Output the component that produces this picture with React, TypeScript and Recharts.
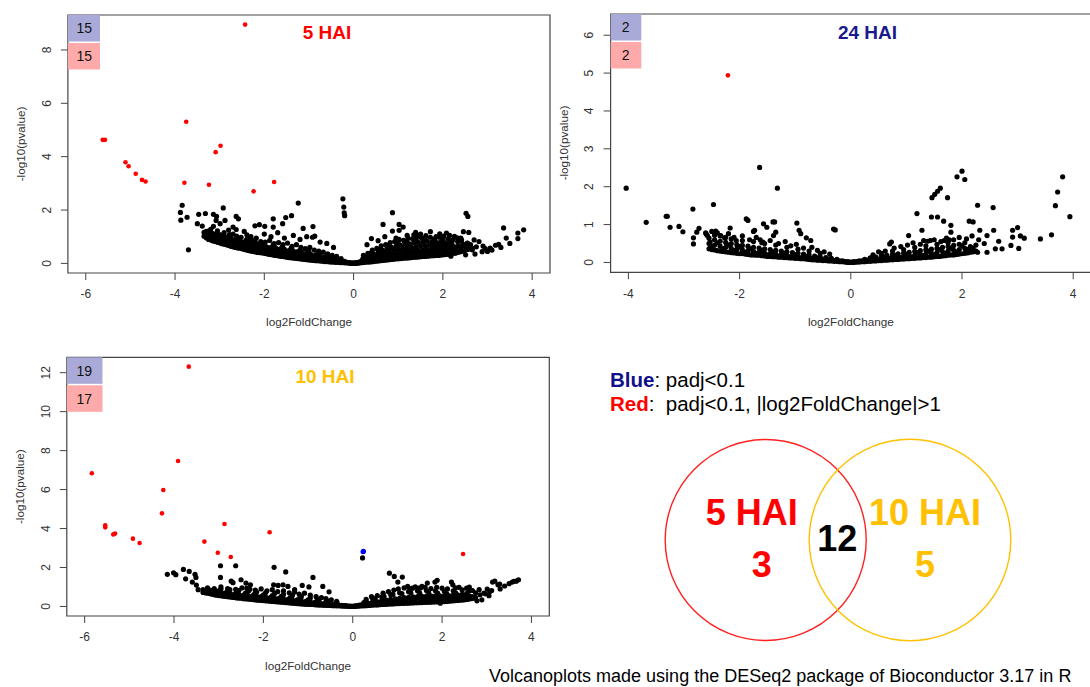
import React from 'react'
import { ScatterChart, Scatter, XAxis, YAxis, ReferenceArea } from 'recharts'

type Pt = { x: number; y: number }

const FONT = '"Liberation Sans", Arial, Helvetica, sans-serif'

// ---------- 5 HAI ----------
const hai5Red: number[][] = [
  [-2.43, 8.95], [-5.62, 4.63], [-5.57, 4.63], [-5.11, 3.79], [-5.04, 3.64], [-4.88, 3.36],
  [-4.74, 3.13], [-4.66, 3.07], [-3.75, 5.31], [-3.79, 3.02], [-3.24, 2.95], [-3.09, 4.17],
  [-2.98, 4.41], [-2.24, 2.7], [-1.78, 3.05],
]
const hai5Black: number[][] = [
  [-3.84, 2.18], [-3.88, 1.91], [-3.87, 1.62], [-3.73, 1.73], [-3.7, 0.51], [-3.47, 1.84], [-3.32, 1.87],
  [-3.5, 1.49], [-3.39, 1.4], [-3.14, 1.84], [-3.07, 1.76], [-3.08, 1.61], [-2.99, 1.49], [-2.88, 1.61],
  [-3.14, 1.39], [-2.92, 2.08], [-2.63, 1.76], [-2.58, 1.67], [-2.7, 1.36], [-2.63, 1.27], [-2.39, 1.07],
  [-2.21, 1.41], [-2.11, 1.45], [-1.99, 1.39], [-1.8, 1.67], [-1.8, 1.36], [-1.59, 1.49], [-1.52, 1.72],
  [-1.39, 1.79], [-1.24, 2.26], [-1.13, 1.31], [-0.91, 1.38], [-0.87, 1.02], [-0.92, 0.98],
  [-0.24, 2.42], [-0.22, 2.11], [-0.21, 1.89], [-0.2, 1.79],
  [-3.3, 1.2], [-3.21, 1.1], [-2.95, 1.05], [-2.8, 1.25], [-2.7, 1.1], [-2.45, 1.2], [-2.3, 1.0],
  [-2.0, 1.1], [-1.85, 1.0], [-1.7, 1.15], [-1.55, 0.95], [-1.35, 1.05], [-1.2, 0.9], [-1.05, 1.0],
  [-0.75, 0.8], [-0.6, 0.75], [-0.45, 0.6],
  [0.87, 1.9], [0.66, 1.46], [1.02, 1.46], [1.11, 1.36], [0.87, 1.21], [1.02, 1.24], [0.4, 0.93],
  [1.39, 1.16], [1.35, 1.07], [1.72, 1.19], [2.52, 1.88], [2.56, 1.76], [2.46, 1.19], [2.58, 1.16],
  [3.36, 1.33], [3.42, 0.95], [3.68, 1.14], [3.68, 0.93], [3.81, 1.26], [1.93, 1.11], [2.08, 1.14],
  [2.26, 1.01], [2.33, 0.82], [2.7, 0.88], [2.81, 0.82], [2.66, 0.51], [2.88, 0.44], [3.06, 0.57],
  [3.18, 0.68], [3.25, 0.71], [2.28, 0.38], [2.51, 0.32], [2.72, 0.35], [2.18, 0.27],
  [0.3, 0.7], [0.55, 0.85], [0.7, 1.0], [0.95, 0.95], [1.2, 1.05], [1.5, 1.1], [1.6, 0.95], [1.85, 1.0],
  [2.0, 0.9], [2.15, 1.05], [2.4, 0.95], [2.55, 0.75], [2.9, 0.65], [3.0, 0.45], [3.3, 0.6], [3.5, 0.75],
]
// looser genes just above the dense band
const hai5Upper: number[][] = [
  [-3.2, 1.28], [-3.05, 1.22], [-2.9, 1.15], [-2.78, 1.08], [-2.62, 1.02], [-2.52, 0.98], [-2.38, 0.92],
  [-2.28, 0.88], [-2.18, 0.95], [-2.08, 0.82], [-1.98, 0.8], [-1.88, 0.86], [-1.78, 0.74], [-1.68, 0.78],
  [-1.58, 0.7], [-1.48, 0.76], [-1.38, 0.64], [-1.28, 0.7], [-1.18, 0.6], [-1.08, 0.55], [-0.98, 0.6],
  [-0.88, 0.5], [-0.78, 0.46], [-0.68, 0.42], [-0.58, 0.36], [-0.48, 0.3], [-0.38, 0.26], [-0.28, 0.18],
  [0.22, 0.3], [0.32, 0.38], [0.42, 0.5], [0.52, 0.56], [0.62, 0.66], [0.72, 0.7], [0.82, 0.78], [0.92, 0.82],
  [1.02, 0.9], [1.12, 0.86], [1.22, 0.95], [1.32, 0.92], [1.42, 1.0], [1.52, 0.96], [1.62, 1.04], [1.72, 0.98],
  [1.82, 0.92], [1.92, 0.98], [2.02, 1.02], [2.12, 0.92], [2.22, 0.88], [2.32, 0.96], [2.42, 0.88],
  [2.62, 0.7], [2.75, 0.62], [2.95, 0.55], [3.1, 0.5],
]
// dense band, one row per log2FC column: [log2FC, -log10 p, -log10 p, ...]
const hai5Band: number[][] = [
  [-3.35, 1.02, 1.16], [-3.25, 0.9, 1.06, 1.21], [-3.15, 0.84, 0.97, 1.12], [-3.05, 0.79, 0.94, 1.13],
  [-2.95, 0.74, 0.87, 1.02], [-2.85, 0.7, 0.84, 0.99], [-2.75, 0.64, 0.8, 0.95], [-2.65, 0.6, 0.75, 0.9],
  [-2.55, 0.57, 0.69, 0.87], [-2.45, 0.52, 0.66, 0.81], [-2.35, 0.48, 0.62, 0.8], [-2.25, 0.45, 0.57, 0.74],
  [-2.15, 0.41, 0.55, 0.7], [-2.05, 0.39, 0.5, 0.67], [-1.95, 0.36, 0.48, 0.62], [-1.85, 0.33, 0.44, 0.6],
  [-1.75, 0.3, 0.42, 0.59], [-1.65, 0.27, 0.38, 0.54], [-1.55, 0.25, 0.36, 0.53], [-1.45, 0.22, 0.33, 0.48],
  [-1.35, 0.2, 0.31, 0.47], [-1.25, 0.18, 0.27, 0.44], [-1.15, 0.16, 0.26, 0.4], [-1.05, 0.14, 0.23, 0.38],
  [-0.95, 0.12, 0.21, 0.33], [-0.85, 0.1, 0.19, 0.31], [-0.75, 0.09, 0.16, 0.29], [-0.65, 0.07, 0.14, 0.24],
  [-0.55, 0.06, 0.12, 0.21], [-0.45, 0.05, 0.1, 0.17], [-0.35, 0.04, 0.08, 0.13], [-0.25, 0.03, 0.06],
  [-0.15, 0.02, 0.04], [-0.05, 0.0, 0.02], [0.05, 0.0, 0.03], [0.15, 0.02, 0.07], [0.25, 0.04, 0.12, 0.2],
  [0.35, 0.05, 0.16, 0.29], [0.45, 0.07, 0.2, 0.35], [0.55, 0.09, 0.24, 0.44], [0.65, 0.11, 0.28, 0.49],
  [0.75, 0.13, 0.31, 0.56], [0.85, 0.15, 0.35, 0.6], [0.95, 0.17, 0.38, 0.65], [1.05, 0.18, 0.41, 0.68],
  [1.15, 0.2, 0.43, 0.72], [1.25, 0.21, 0.45, 0.73], [1.35, 0.23, 0.48, 0.78], [1.45, 0.24, 0.49, 0.79],
  [1.55, 0.26, 0.51, 0.81], [1.65, 0.27, 0.53, 0.83], [1.75, 0.29, 0.54, 0.8], [1.85, 0.3, 0.57, 0.79],
  [1.95, 0.31, 0.57, 0.81], [2.05, 0.33, 0.59, 0.77], [2.15, 0.35, 0.61, 0.78], [2.25, 0.38, 0.63],
  [2.35, 0.42, 0.67], [2.45, 0.46, 0.72], [2.55, 0.52, 0.76], [2.65, 0.57],
]
const hai5BandB: number[][] = [
  [-3.3, 0.96, 1.1], [-3.2, 0.88, 1.0, 1.14], [-3.1, 0.82, 0.9, 1.05], [-3.0, 0.77, 0.86, 1.0, 1.08],
  [-2.9, 0.72, 0.8, 0.95], [-2.8, 0.67, 0.77, 0.92], [-2.7, 0.62, 0.72, 0.87], [-2.6, 0.58, 0.67, 0.82, 0.95],
  [-2.5, 0.55, 0.63, 0.78], [-2.4, 0.5, 0.58, 0.73, 0.88], [-2.3, 0.46, 0.55, 0.69], [-2.2, 0.43, 0.5, 0.64, 0.8],
  [-2.1, 0.4, 0.47, 0.62], [-2.0, 0.37, 0.44, 0.58, 0.74], [-1.9, 0.34, 0.42, 0.55], [-1.8, 0.31, 0.38, 0.52, 0.7],
  [-1.7, 0.29, 0.35, 0.49], [-1.6, 0.26, 0.33, 0.46, 0.62], [-1.5, 0.23, 0.3, 0.43], [-1.4, 0.21, 0.27, 0.4, 0.56],
  [-1.3, 0.19, 0.25, 0.38], [-1.2, 0.17, 0.22, 0.35, 0.5], [-1.1, 0.15, 0.2, 0.32], [-1.0, 0.13, 0.18, 0.29, 0.45],
  [-0.9, 0.11, 0.16, 0.26], [-0.8, 0.1, 0.14, 0.24, 0.37], [-0.7, 0.08, 0.12, 0.2], [-0.6, 0.07, 0.1, 0.18, 0.3],
  [-0.5, 0.05, 0.08, 0.14], [-0.4, 0.04, 0.07, 0.12, 0.2], [-0.3, 0.03, 0.05, 0.1], [-0.2, 0.02, 0.04, 0.08],
  [-0.1, 0.01, 0.03], [0.0, 0.0, 0.02], [0.1, 0.01, 0.04], [0.2, 0.03, 0.08, 0.15], [0.3, 0.05, 0.1, 0.22],
  [0.4, 0.06, 0.13, 0.26, 0.4], [0.5, 0.08, 0.16, 0.3], [0.6, 0.1, 0.19, 0.36, 0.55], [0.7, 0.12, 0.21, 0.4],
  [0.8, 0.14, 0.24, 0.45, 0.66], [0.9, 0.16, 0.27, 0.5], [1.0, 0.17, 0.29, 0.53, 0.75], [1.1, 0.19, 0.31, 0.56],
  [1.2, 0.2, 0.33, 0.58, 0.82], [1.3, 0.22, 0.35, 0.6], [1.4, 0.23, 0.37, 0.63, 0.88], [1.5, 0.25, 0.38, 0.65],
  [1.6, 0.26, 0.4, 0.67, 0.9], [1.7, 0.28, 0.42, 0.68], [1.8, 0.29, 0.43, 0.68, 0.9], [1.9, 0.3, 0.44, 0.69],
  [2.0, 0.32, 0.46, 0.7, 0.88], [2.1, 0.34, 0.48, 0.7], [2.2, 0.37, 0.5, 0.75], [2.3, 0.4, 0.54],
  [2.4, 0.44, 0.58, 0.85], [2.5, 0.49, 0.64], [2.6, 0.54, 0.68],
]

// ---------- 24 HAI ----------
const hai24Red: number[][] = [[-2.21, 4.94]]
const hai24Black: number[][] = [
  [-4.04, 1.96], [-3.68, 1.06], [-3.32, 1.22], [-3.3, 1.22], [-3.25, 0.93], [-3.09, 0.95], [-3.02, 0.81],
  [-2.84, 1.41], [-2.47, 1.53], [-1.64, 2.51], [-1.32, 1.96], [-1.88, 1.15], [-1.85, 1.11], [-1.57, 1.02],
  [-1.4, 1.07], [-1.37, 1.07], [-0.97, 1.04], [-0.31, 0.88], [-0.28, 0.86],
  [1.19, 1.29], [1.45, 1.2], [1.56, 1.2], [1.46, 1.71], [1.51, 1.8], [1.56, 1.88], [1.61, 1.96],
  [1.74, 1.71], [1.91, 2.26], [2.0, 2.41], [2.05, 2.19], [2.28, 1.51], [2.56, 1.45], [2.13, 1.09],
  [2.2, 1.07], [1.67, 1.09], [1.28, 0.85], [1.8, 0.98], [2.32, 0.85], [2.57, 0.85], [2.91, 0.85],
  [3.0, 0.92], [2.91, 0.67], [3.05, 0.7], [3.12, 0.64], [3.41, 0.62], [3.61, 0.73], [3.68, 1.5],
  [3.72, 1.86], [3.81, 2.26], [3.94, 1.21], [2.45, 0.71], [2.66, 0.56], [2.88, 0.45], [3.02, 0.37],
  [2.6, 0.36], [2.72, 0.36], [2.45, 0.27], [2.28, 0.27], [2.14, 0.36],
  [-2.73, 0.9], [-2.77, 0.8], [-2.83, 0.65], [-2.83, 0.49], [-2.61, 0.78], [-2.58, 0.71], [-2.43, 0.83],
  [-2.4, 0.78], [-2.34, 0.71], [-2.27, 0.65], [-2.17, 0.91], [-2.53, 0.54], [-2.52, 0.41], [-1.73, 0.85],
  [-1.75, 0.82], [-1.63, 0.6], [-1.58, 0.54], [-1.35, 0.8], [-1.39, 0.71], [-0.93, 0.85], [-0.9, 0.76],
  [-0.8, 0.65], [-0.72, 0.58], [-1.51, 0.93], [-2.06, 0.58], [-2.0, 0.41], [0.7, 0.49], [0.73, 0.54],
  [1.04, 0.71], [1.31, 0.58], [1.43, 0.58], [1.68, 0.58], [1.77, 0.6], [1.8, 0.8],
]
const hai24Upper: number[][] = [
  [-2.6, 0.75], [-2.5, 0.82], [-2.35, 0.7], [-2.2, 0.76], [-2.1, 0.66], [-1.95, 0.7], [-1.82, 0.6],
  [-1.7, 0.66], [-1.6, 0.52], [-1.45, 0.58], [-1.3, 0.5], [-1.18, 0.55], [-1.08, 0.44], [-0.98, 0.48],
  [-0.85, 0.38], [-0.7, 0.4], [-0.6, 0.32], [-0.48, 0.28], [-0.38, 0.22],
  [0.4, 0.2], [0.5, 0.28], [0.62, 0.3], [0.78, 0.38], [0.9, 0.42], [1.02, 0.46], [1.12, 0.52], [1.25, 0.48],
  [1.38, 0.56], [1.5, 0.6], [1.62, 0.55], [1.72, 0.64], [1.85, 0.6], [1.95, 0.66], [2.08, 0.62], [2.18, 0.7],
  [2.3, 0.6], [2.4, 0.5],
]
const hai24Band: number[][] = [
  [-2.55, 0.36, 0.5, 0.64], [-2.45, 0.33, 0.46, 0.6, 0.72], [-2.35, 0.3, 0.43, 0.56], [-2.25, 0.28, 0.4, 0.53, 0.66],
  [-2.15, 0.26, 0.37, 0.5, 0.62], [-2.05, 0.24, 0.35, 0.47], [-1.95, 0.23, 0.33, 0.45, 0.58], [-1.85, 0.21, 0.31, 0.43],
  [-1.75, 0.2, 0.29, 0.4, 0.55], [-1.65, 0.19, 0.27, 0.38], [-1.55, 0.17, 0.25, 0.36, 0.5], [-1.45, 0.16, 0.23, 0.34],
  [-1.35, 0.15, 0.22, 0.32, 0.46], [-1.25, 0.14, 0.2, 0.3], [-1.15, 0.13, 0.19, 0.28, 0.4], [-1.05, 0.12, 0.17, 0.26],
  [-0.95, 0.11, 0.16, 0.24, 0.35], [-0.85, 0.1, 0.14, 0.22], [-0.75, 0.08, 0.12, 0.2, 0.3], [-0.65, 0.07, 0.11, 0.17],
  [-0.55, 0.06, 0.09, 0.15, 0.24], [-0.45, 0.05, 0.08, 0.13], [-0.35, 0.04, 0.06, 0.11], [-0.25, 0.03, 0.05, 0.08],
  [-0.15, 0.02, 0.04], [-0.05, 0.0, 0.02], [0.05, 0.0, 0.02], [0.15, 0.01, 0.04], [0.25, 0.02, 0.05, 0.08],
  [0.35, 0.03, 0.07, 0.12], [0.45, 0.04, 0.08, 0.14], [0.55, 0.05, 0.1, 0.17, 0.24], [0.65, 0.06, 0.11, 0.19],
  [0.75, 0.07, 0.13, 0.21, 0.3], [0.85, 0.08, 0.14, 0.23], [0.95, 0.09, 0.16, 0.25, 0.34], [1.05, 0.1, 0.17, 0.27],
  [1.15, 0.11, 0.19, 0.29, 0.4], [1.25, 0.12, 0.2, 0.31], [1.35, 0.13, 0.22, 0.33, 0.44], [1.45, 0.14, 0.24, 0.35],
  [1.55, 0.16, 0.26, 0.37, 0.48], [1.65, 0.17, 0.28, 0.4], [1.75, 0.19, 0.3, 0.42, 0.52], [1.85, 0.2, 0.32, 0.45],
  [1.95, 0.22, 0.34, 0.48], [2.05, 0.24, 0.37, 0.52], [2.15, 0.27, 0.42], [2.25, 0.3, 0.46],
]
const hai24BandB: number[][] = [
  [-2.5, 0.34, 0.42], [-2.4, 0.31, 0.52], [-2.3, 0.29, 0.36], [-2.2, 0.27, 0.46], [-2.1, 0.25, 0.31],
  [-2.0, 0.23, 0.41], [-1.9, 0.22, 0.27], [-1.8, 0.2, 0.36], [-1.7, 0.19, 0.24], [-1.6, 0.18, 0.32],
  [-1.5, 0.16, 0.2], [-1.4, 0.15, 0.28], [-1.3, 0.14, 0.17], [-1.2, 0.13, 0.24], [-1.1, 0.12, 0.15],
  [-1.0, 0.11, 0.2], [-0.9, 0.1, 0.12], [-0.8, 0.09, 0.16], [-0.7, 0.07, 0.1], [-0.6, 0.06, 0.12],
  [-0.5, 0.05, 0.07], [-0.4, 0.04, 0.09], [-0.3, 0.03, 0.05], [-0.2, 0.02, 0.04], [-0.1, 0.01, 0.02],
  [0.0, 0.0, 0.01], [0.1, 0.01, 0.02], [0.2, 0.02, 0.04], [0.3, 0.03, 0.06], [0.4, 0.04, 0.11],
  [0.5, 0.05, 0.08], [0.6, 0.06, 0.15], [0.7, 0.07, 0.1], [0.8, 0.08, 0.19], [0.9, 0.09, 0.13],
  [1.0, 0.1, 0.22], [1.1, 0.11, 0.15], [1.2, 0.12, 0.26], [1.3, 0.13, 0.18], [1.4, 0.14, 0.3],
  [1.5, 0.15, 0.21], [1.6, 0.16, 0.34], [1.7, 0.18, 0.24], [1.8, 0.2, 0.38], [1.9, 0.21, 0.28],
  [2.0, 0.23, 0.44], [2.1, 0.25, 0.34], [2.2, 0.28, 0.38],
]

// ---------- 10 HAI ----------
const hai10Red: number[][] = [
  [-3.67, 12.31], [-5.84, 6.84], [-3.91, 7.47], [-4.24, 5.98], [-4.27, 4.78], [-5.54, 4.17], [-5.54, 4.06],
  [-5.36, 3.7], [-5.32, 3.74], [-4.92, 3.48], [-4.77, 3.26], [-2.87, 4.23], [-3.32, 3.33], [-3.02, 2.76],
  [-2.73, 2.54], [-1.86, 3.81], [2.47, 2.69],
]
const hai10Blue: number[][] = [[0.24, 2.83], [0.23, 2.81]]
const hai10Black: number[][] = [
  [0.22, 2.49], [-2.96, 2.09], [-2.96, 1.49], [-2.62, 2.09], [-1.76, 2.01], [-1.5, 1.77], [-0.89, 1.49],
  [-4.15, 1.65], [-4.01, 1.73], [-3.96, 1.63], [-3.79, 1.9], [-3.66, 1.8], [-3.53, 1.65], [-3.51, 1.49],
  [-3.74, 1.42], [-3.59, 1.25], [-3.5, 1.1], [-3.46, 0.86], [-2.72, 1.3], [-2.68, 1.22], [-2.5, 1.37],
  [-2.39, 1.2], [-2.29, 1.11], [-2.37, 0.94], [-2.33, 0.81], [-1.77, 1.11], [-1.67, 1.08], [-1.56, 1.11],
  [-1.45, 1.03], [-1.3, 0.86], [-1.13, 1.08], [-0.98, 1.0], [-0.67, 1.03], [-0.53, 0.75],
  [-3.34, 0.78], [-3.23, 0.82], [-3.12, 0.73], [-3.04, 0.68], [-2.97, 0.73],
  [0.82, 1.71], [0.93, 1.54], [1.01, 1.25], [1.11, 1.51], [1.23, 1.03], [1.34, 0.94], [1.48, 0.94],
  [1.55, 1.03], [1.67, 1.2], [1.84, 1.25], [1.89, 1.34], [2.21, 1.25], [2.24, 1.11], [2.38, 0.98],
  [2.55, 0.94], [2.68, 0.82], [2.83, 0.86], [2.94, 0.69], [3.07, 0.77], [3.13, 1.25], [3.25, 1.11],
  [3.5, 1.17], [3.61, 1.29], [3.18, 1.3], [3.29, 1.15], [3.57, 1.25], [3.66, 1.3], [3.71, 1.37],
  [2.61, 0.99], [2.29, 0.69], [2.37, 0.39], [2.52, 0.46], [2.67, 0.51], [2.78, 0.29], [2.89, 0.34],
  [1.96, 0.17], [2.09, 0.34], [3.01, 0.89], [3.11, 0.82], [2.97, 0.65], [2.73, 0.45],
]
const hai10Upper: number[][] = [
  [-3.25, 0.95], [-3.1, 0.92], [-2.95, 1.0], [-2.8, 0.92], [-2.62, 0.88], [-2.48, 0.95], [-2.3, 0.88],
  [-2.18, 0.84], [-2.05, 0.9], [-1.92, 0.8], [-1.8, 0.86], [-1.68, 0.76], [-1.55, 0.8], [-1.42, 0.7],
  [-1.3, 0.74], [-1.2, 0.64], [-1.08, 0.68], [-0.95, 0.58], [-0.82, 0.5], [-0.7, 0.46], [-0.6, 0.4],
  [-0.48, 0.34], [-0.36, 0.26],
  [0.3, 0.36], [0.42, 0.5], [0.55, 0.56], [0.68, 0.68], [0.8, 0.76], [0.92, 0.84], [1.02, 0.9], [1.15, 0.95],
  [1.28, 0.9], [1.4, 1.0], [1.52, 0.95], [1.62, 0.98], [1.75, 0.92], [1.88, 0.98], [2.0, 0.94], [2.12, 0.9],
  [2.3, 0.95], [2.45, 0.85], [2.6, 0.8], [2.75, 0.7], [2.85, 0.6], [3.05, 0.55], [3.3, 0.9], [3.4, 1.05],
]
const hai10Band: number[][] = [
  [-3.35, 0.72, 0.86], [-3.25, 0.68, 0.83], [-3.15, 0.63, 0.8], [-3.05, 0.58, 0.78], [-2.95, 0.55, 0.74, 0.9],
  [-2.85, 0.52, 0.7], [-2.75, 0.49, 0.68, 0.86], [-2.65, 0.46, 0.64], [-2.55, 0.43, 0.62, 0.82],
  [-2.45, 0.4, 0.58], [-2.35, 0.38, 0.56, 0.78], [-2.25, 0.36, 0.54], [-2.15, 0.33, 0.52, 0.74],
  [-2.05, 0.31, 0.5], [-1.95, 0.29, 0.48, 0.7], [-1.85, 0.27, 0.45], [-1.75, 0.25, 0.43, 0.66],
  [-1.65, 0.23, 0.41], [-1.55, 0.21, 0.39, 0.62], [-1.45, 0.19, 0.37], [-1.35, 0.17, 0.34, 0.56],
  [-1.25, 0.15, 0.32], [-1.15, 0.13, 0.29, 0.5], [-1.05, 0.11, 0.26], [-0.95, 0.1, 0.24, 0.44],
  [-0.85, 0.09, 0.21], [-0.75, 0.07, 0.18, 0.36], [-0.65, 0.06, 0.15], [-0.55, 0.05, 0.13, 0.28],
  [-0.45, 0.04, 0.1], [-0.35, 0.03, 0.08, 0.18], [-0.25, 0.02, 0.06], [-0.15, 0.01, 0.04], [-0.05, 0.0, 0.02],
  [0.05, 0.0, 0.03], [0.15, 0.02, 0.07], [0.25, 0.03, 0.11, 0.2], [0.35, 0.05, 0.15], [0.45, 0.07, 0.2, 0.36],
  [0.55, 0.08, 0.24], [0.65, 0.1, 0.28, 0.48], [0.75, 0.11, 0.32], [0.85, 0.13, 0.36, 0.6], [0.95, 0.14, 0.39],
  [1.05, 0.15, 0.42, 0.7], [1.15, 0.16, 0.45], [1.25, 0.17, 0.47, 0.76], [1.35, 0.18, 0.49], [1.45, 0.19, 0.5, 0.8],
  [1.55, 0.2, 0.52], [1.65, 0.21, 0.53, 0.82], [1.75, 0.22, 0.54], [1.85, 0.23, 0.55, 0.8], [1.95, 0.24, 0.55],
  [2.05, 0.25, 0.56, 0.78], [2.15, 0.27, 0.56], [2.25, 0.29, 0.58, 0.8], [2.35, 0.31, 0.6], [2.45, 0.33, 0.62],
  [2.55, 0.36, 0.66], [2.65, 0.4], [2.75, 0.45],
]
const hai10BandB: number[][] = [
  [-3.3, 0.7, 0.78], [-3.2, 0.66, 0.74, 0.84], [-3.1, 0.6, 0.7], [-3.0, 0.56, 0.66, 0.8], [-2.9, 0.53, 0.62],
  [-2.8, 0.5, 0.6, 0.78], [-2.7, 0.47, 0.56], [-2.6, 0.44, 0.53, 0.72], [-2.5, 0.42, 0.5], [-2.4, 0.39, 0.47, 0.68],
  [-2.3, 0.37, 0.45], [-2.2, 0.34, 0.43, 0.64], [-2.1, 0.32, 0.41], [-2.0, 0.3, 0.39, 0.6], [-1.9, 0.28, 0.37],
  [-1.8, 0.26, 0.35, 0.56], [-1.7, 0.24, 0.33], [-1.6, 0.22, 0.31, 0.52], [-1.5, 0.2, 0.28], [-1.4, 0.18, 0.26, 0.46],
  [-1.3, 0.16, 0.24], [-1.2, 0.14, 0.22, 0.4], [-1.1, 0.12, 0.2], [-1.0, 0.11, 0.18, 0.34], [-0.9, 0.1, 0.16],
  [-0.8, 0.08, 0.14, 0.28], [-0.7, 0.07, 0.12], [-0.6, 0.06, 0.1, 0.22], [-0.5, 0.05, 0.08], [-0.4, 0.04, 0.07, 0.14],
  [-0.3, 0.03, 0.05], [-0.2, 0.02, 0.04], [-0.1, 0.01, 0.02], [0.0, 0.0, 0.01], [0.1, 0.01, 0.04], [0.2, 0.03, 0.08],
  [0.3, 0.04, 0.12, 0.26], [0.4, 0.06, 0.16], [0.5, 0.08, 0.2, 0.4], [0.6, 0.09, 0.22], [0.7, 0.11, 0.25, 0.52],
  [0.8, 0.12, 0.28], [0.9, 0.13, 0.3, 0.62], [1.0, 0.15, 0.32], [1.1, 0.16, 0.34, 0.66], [1.2, 0.17, 0.35],
  [1.3, 0.18, 0.37, 0.7], [1.4, 0.19, 0.38], [1.5, 0.2, 0.39, 0.68], [1.6, 0.21, 0.4], [1.7, 0.22, 0.41, 0.7],
  [1.8, 0.23, 0.42], [1.9, 0.24, 0.42, 0.68], [2.0, 0.25, 0.43], [2.1, 0.26, 0.44, 0.66], [2.2, 0.28, 0.46],
  [2.3, 0.3, 0.48, 0.7], [2.4, 0.32, 0.5], [2.5, 0.34, 0.52], [2.6, 0.38, 0.56], [2.7, 0.42],
]

// counts shown in the corner boxes: [padj<0.1, padj<0.1 & |LFC|>1]
const hai5Counts = [15, 15]
const hai24Counts = [2, 2]
const hai10Counts = [19, 17]

// Venn of red genes
const vennNames = ['5 HAI', '10 HAI']
const vennOnly = [3, 5]
const vennShared = 12

const toPts = (pairs: number[][]): Pt[] => pairs.map(([x, y]) => ({ x, y }))
const fromBand = (cols: number[][]): Pt[] => cols.flatMap(([x, ...ys]) => ys.map((y) => ({ x, y })))

const dot = (r: number, color: string) => (p: any) => <circle cx={p.cx} cy={p.cy} r={r} fill={color} />

const XTick = ({ x, y, payload }: any) => (
  <text x={x} y={y + 18.3} textAnchor="middle" fontSize={12} fill="#333" fontFamily={FONT}>
    {payload.value}
  </text>
)

const YTick = ({ x, y, payload }: any) => {
  const bx = x - 10.2
  return (
    <text x={bx} y={y} transform={`rotate(-90 ${bx} ${y})`} textAnchor="middle" fontSize={12} fill="#333" fontFamily={FONT}>
      {payload.value}
    </text>
  )
}

interface PanelCfg {
  left: number
  top: number
  width: number
  height: number
  plotLeft: number
  plotTop: number
  plotRight: number
  plotBottom: number
  xDomain: [number, number]
  yDomain: [number, number]
  xTicks: number[]
  yTicks: number[]
  black: Pt[]
  red: Pt[]
  blue: Pt[]
}

const Panel = ({ cfg }: { cfg: PanelCfg }) => {
  const { left, top, width, height, plotLeft, plotTop, plotRight, plotBottom, xDomain, yDomain } = cfg
  return (
    <div style={{ position: 'absolute', left, top, width, height }}>
      <ScatterChart width={width} height={height} margin={{ top: plotTop, right: width - plotRight, bottom: 0, left: 0 }}>
        <XAxis
          type="number"
          dataKey="x"
          domain={xDomain}
          ticks={cfg.xTicks}
          interval={0}
          allowDataOverflow
          axisLine={false}
          tickSize={7}
          tickMargin={0}
          tickLine={{ stroke: '#444' }}
          tick={(p: any) => <XTick {...p} />}
          height={height - plotBottom}
        />
        <YAxis
          type="number"
          dataKey="y"
          domain={yDomain}
          ticks={cfg.yTicks}
          interval={0}
          allowDataOverflow
          axisLine={false}
          tickSize={7}
          tickMargin={0}
          tickLine={{ stroke: '#444' }}
          tick={(p: any) => <YTick {...p} />}
          width={plotLeft}
        />
        <ReferenceArea
          x1={xDomain[0]}
          x2={xDomain[1]}
          y1={yDomain[0]}
          y2={yDomain[1]}
          fill="none"
          stroke="#444"
          strokeWidth={1.2}
          ifOverflow="visible"
        />
        <Scatter data={cfg.black} isAnimationActive={false} shape={dot(2.6, '#000')} />
        <Scatter data={cfg.red} isAnimationActive={false} shape={dot(2.3, '#ff0000')} />
        <Scatter data={cfg.blue} isAnimationActive={false} shape={dot(2.5, '#0000ff')} />
      </ScatterChart>
    </div>
  )
}

const panels: PanelCfg[] = [
  {
    left: 0, top: 0, width: 560, height: 335,
    plotLeft: 67.9, plotTop: 15, plotRight: 550, plotBottom: 273,
    xDomain: [-6.4, 4.4], yDomain: [-0.36, 9.31],
    xTicks: [-6, -4, -2, 0, 2, 4], yTicks: [0, 2, 4, 6, 8],
    black: [...fromBand(hai5Band), ...fromBand(hai5BandB), ...toPts(hai5Upper), ...toPts(hai5Black)],
    red: toPts(hai5Red), blue: [],
  },
  {
    left: 540, top: 0, width: 560, height: 335,
    plotLeft: 70.6, plotTop: 14, plotRight: 551, plotBottom: 272.3,
    xDomain: [-4.32, 4.32], yDomain: [-0.26, 6.56],
    xTicks: [-4, -2, 0, 2, 4], yTicks: [0, 1, 2, 3, 4, 5, 6],
    black: [...fromBand(hai24Band), ...fromBand(hai24BandB), ...toPts(hai24Upper), ...toPts(hai24Black)],
    red: toPts(hai24Red), blue: [],
  },
  {
    left: 0, top: 340, width: 560, height: 347,
    plotLeft: 66.8, plotTop: 17.3, plotRight: 549.3, plotBottom: 276,
    xDomain: [-6.4, 4.4], yDomain: [-0.49, 12.79],
    xTicks: [-6, -4, -2, 0, 2, 4], yTicks: [0, 2, 4, 6, 8, 10, 12],
    black: [...fromBand(hai10Band), ...fromBand(hai10BandB), ...toPts(hai10Upper), ...toPts(hai10Black)],
    red: toPts(hai10Red), blue: toPts(hai10Blue),
  },
]

// page-level annotation layout for each panel
const panelText = [
  { title: '5 HAI', color: '#ff0000', tx: 327, ty: 39.2, counts: hai5Counts, bx: 67.9, bw: 32.1, by: 15, cx: 84.3 },
  { title: '24 HAI', color: '#1a1a8e', tx: 867.5, ty: 38.8, counts: hai24Counts, bx: 610.6, bw: 30.7, by: 14, cx: 625.6 },
  { title: '10 HAI', color: '#ffc000', tx: 325, ty: 382.5, counts: hai10Counts, bx: 66.8, bw: 35.7, by: 357.3, cx: 84.3 },
]

const axisTitles = [
  { xx: 309, xy: 326, yx: 24.5, yy: 144 },
  { xx: 850.8, xy: 325.5, yx: 567.6, yy: 143 },
  { xx: 308, xy: 669.5, yx: 24.5, yy: 486.7 },
]

export default function App() {
  return (
    <div style={{ position: 'absolute', left: 0, top: 0, width: 1090, height: 687, overflow: 'hidden', background: '#fff' }}>
      {panels.map((p, i) => (
        <Panel key={i} cfg={p} />
      ))}
      <svg width={1090} height={687} style={{ position: 'absolute', left: 0, top: 0, pointerEvents: 'none' }} fontFamily={FONT}>
        {panelText.map((t, i) => (
          <g key={i}>
            <rect x={t.bx} y={t.by} width={t.bw} height={26.5} fill="#aaaad8" />
            <rect x={t.bx} y={t.by + 28} width={t.bw} height={26.5} fill="#ffaaaa" />
            <text x={t.cx} y={t.by + 18.3} textAnchor="middle" fontSize={14} fill="#111">{t.counts[0]}</text>
            <text x={t.cx} y={t.by + 46.3} textAnchor="middle" fontSize={14} fill="#111">{t.counts[1]}</text>
            <text x={t.tx} y={t.ty} textAnchor="middle" fontSize={19} fontWeight="bold" fill={t.color}>{t.title}</text>
          </g>
        ))}
        {axisTitles.map((a, i) => (
          <g key={i} fontSize={11.7} fill="#333">
            <text x={a.xx} y={a.xy} textAnchor="middle">log2FoldChange</text>
            <text x={a.yx} y={a.yy} textAnchor="middle" transform={`rotate(-90 ${a.yx} ${a.yy})`}>-log10(pvalue)</text>
          </g>
        ))}

        <text x={610} y={386.7} fontSize={20.5} fill="#000">
          <tspan fontWeight="bold" fill="#10108a">Blue</tspan>
          <tspan>: padj&lt;0.1</tspan>
        </text>
        <text x={610} y={410.7} fontSize={20.5} fill="#000" xmlSpace="preserve">
          <tspan fontWeight="bold" fill="#ff0000">Red</tspan>
          <tspan>:  padj&lt;0.1, |log2FoldChange|&gt;1</tspan>
        </text>

        <circle cx={765.7} cy={540} r={100.5} fill="none" stroke="#ff2020" strokeWidth={1.4} />
        <circle cx={910} cy={540} r={100.8} fill="none" stroke="#ffc000" strokeWidth={1.4} />
        <g fontWeight="bold" fontSize={36} textAnchor="middle">
          <text x={751.7} y={525} fill="#ff0000">{vennNames[0]}</text>
          <text x={761.7} y={576.7} fill="#ff0000">{vennOnly[0]}</text>
          <text x={925} y={525} fill="#ffc000">{vennNames[1]}</text>
          <text x={925} y={576.7} fill="#ffc000">{vennOnly[1]}</text>
          <text x={837.3} y={550.7} fill="#000">{vennShared}</text>
        </g>

        <text x={489} y={682.2} fontSize={18} fill="#000">
          Volcanoplots made using the DESeq2 package of Bioconductor 3.17 in R
        </text>
      </svg>
    </div>
  )
}
